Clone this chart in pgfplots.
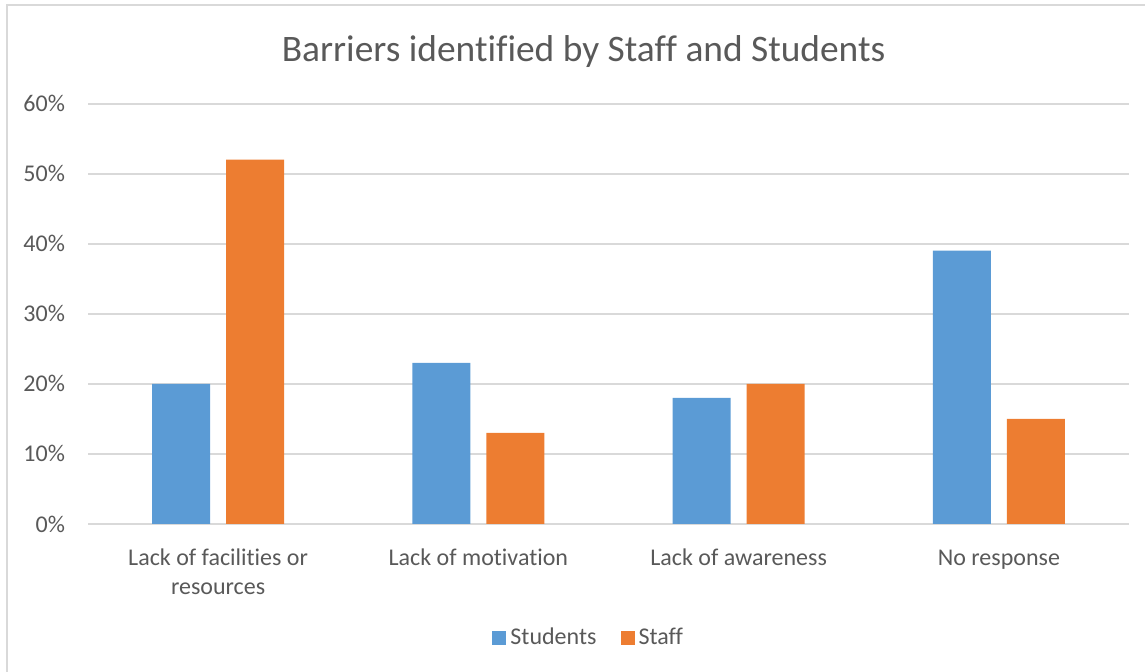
\documentclass[border=0pt]{standalone}
\usepackage{fontspec}
\setmainfont{Carlito}[Ligatures={NoCommon}]
\usepackage{pgfplots}
\pgfplotsset{compat=1.18}
\definecolor{stud}{HTML}{5B9BD5}
\definecolor{staff}{HTML}{ED7D31}
\definecolor{gridc}{HTML}{D9D9D9}
\definecolor{txt}{HTML}{595959}
\begin{document}
\begin{tikzpicture}
\useasboundingbox (0,0) rectangle (572.5pt,336pt);
% chart frame
\draw[gridc, line width=1pt] (3.5pt,0) -- (3.5pt,333.3pt) -- (572.5pt,333.3pt);
\node[txt, font=\fontsize{18.7}{22}\selectfont] at (291.8pt,310pt) {Barriers identified by Staff and Students};
\begin{axis}[
  at={(44pt,74pt)}, anchor=south west,
  scale only axis, width=520.5pt, height=210.25pt,
  ybar, bar width=29pt,
  ymin=0, ymax=60, ytick={0,10,...,60},
  xmin=-0.5, xmax=3.5, xtick={0,1,2,3},
  xticklabels={{\strut Lack of facilities or\\resources},{\strut Lack of motivation},{\strut Lack of awareness},{\strut No response}},
  x tick label style={align=center, text=txt, font=\fontsize{12}{14.5}\selectfont,
    anchor=north, yshift=-7.3pt},
  yticklabel={\pgfmathprintnumber{\tick}\%},
  /pgf/number format/assume math mode=true,
  y tick label style={text=txt, font=\fontsize{12}{14}\selectfont, xshift=-8pt},
  ymajorgrids, grid style={gridc, line width=1pt},
  axis x line*=bottom, x axis line style={draw=gridc, line width=1pt},
  axis y line*=left, y axis line style={draw=none},
  major tick length=0pt,
  legend style={at={(0.482,-0.271)}, anchor=center, draw=none, fill=none,
    legend columns=2, font=\fontsize{12}{14}\selectfont, text=txt,
    /tikz/every even column/.append style={column sep=10pt}},
  legend image code/.code={\fill[#1] (0pt,-3.5pt) rectangle (7pt,3.5pt);},
]
\addplot[fill=stud, draw=none, bar shift=-18.5pt] coordinates {(0,20) (1,23) (2,18) (3,39)};
\addplot[fill=staff, draw=none, bar shift=18.5pt] coordinates {(0,52) (1,13) (2,20) (3,15)};
\legend{Students, Staff}
\end{axis}
\end{tikzpicture}
\end{document}
